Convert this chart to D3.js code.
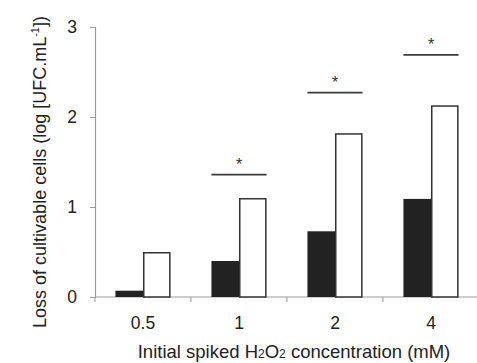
<!DOCTYPE html>
<html>
<head>
<meta charset="utf-8">
<script src="https://cdn.jsdelivr.net/npm/d3@7"></script>
<style>
  body { margin: 0; background: #fff; }
  svg { display: block; font-family: "Liberation Sans", Arial, sans-serif; }
</style>
</head>
<body>
<svg id="chart" width="477" height="363"></svg>
<script>
// H2O2 concentrations (mM)
const categories = ["0.5", "1", "2", "4"];
// Loss of cultivable cells, log UFC/mL
const darkSeries = [0.07, 0.40, 0.73, 1.09];
const lightSeries = [0.50, 1.10, 1.82, 2.13];
// Significance bars: category and height of the bracket line
const sigCategories = ["1", "2", "4"];
const sigLevels = [1.36, 2.27, 2.69];
const yTicks = [0, 1, 2, 3];

const svg = d3.select("#chart");
const margin = { left: 95, right: -2, top: 27, bottom: 66 };
const W = 477, H = 363;

const x = d3.scaleBand().domain(categories)
  .range([margin.left, W - margin.right]).paddingInner(0).paddingOuter(0);
const y = d3.scaleLinear().domain([0, 3]).range([H - margin.bottom, margin.top]);

const inner = d3.scaleBand().domain(["dark", "light"])
  .range([0, x.bandwidth()]).paddingOuter(0.74).paddingInner(0);

const axisColor = "#9a9a9a";

// y axis
const yAxis = svg.append("g")
  .attr("transform", `translate(${margin.left},0)`)
  .call(d3.axisLeft(y).tickValues(yTicks).tickSize(5).tickPadding(13).tickFormat(d3.format("d")));
yAxis.select(".domain").attr("stroke", axisColor).attr("stroke-width", 1.2);
yAxis.selectAll(".tick line").attr("stroke", axisColor);
yAxis.selectAll(".tick text").attr("font-size", 17.5).attr("fill", "#222")
  .attr("font-family", "Liberation Sans, Arial, sans-serif");

// x axis with ticks on band boundaries
const xAxisG = svg.append("g").attr("transform", `translate(0,${y(0)})`);
xAxisG.append("line")
  .attr("x1", margin.left).attr("x2", W - margin.right)
  .attr("stroke", axisColor).attr("stroke-width", 1.2);
xAxisG.selectAll("line.tk").data(categories)
  .join("line").attr("class", "tk")
  .attr("x1", d => x(d)).attr("x2", d => x(d))
  .attr("y1", 0).attr("y2", 5).attr("stroke", axisColor);
xAxisG.selectAll("text").data(categories)
  .join("text")
  .attr("x", d => x(d) + x.bandwidth() / 2)
  .attr("y", 32)
  .attr("text-anchor", "middle")
  .attr("font-size", 17.5).attr("fill", "#222")
  .text(d => d);

// bars
const groups = svg.append("g").selectAll("g").data(categories).join("g")
  .attr("transform", d => `translate(${x(d)},0)`);

groups.append("rect")
  .attr("x", inner("dark"))
  .attr("width", inner.bandwidth())
  .attr("y", (d, i) => y(darkSeries[i]))
  .attr("height", (d, i) => y(0) - y(darkSeries[i]))
  .attr("fill", "#222");

groups.append("rect")
  .attr("x", inner("light") + 0.75)
  .attr("width", inner.bandwidth() - 1.5)
  .attr("y", (d, i) => y(lightSeries[i]) + 0.75)
  .attr("height", (d, i) => y(0) - y(lightSeries[i]) - 0.75)
  .attr("fill", "#fff").attr("stroke", "#333").attr("stroke-width", 1.5);

// significance brackets
const sig = svg.append("g").selectAll("g").data(sigCategories).join("g");
sig.append("line")
  .attr("x1", d => x(d) + inner("dark"))
  .attr("x2", d => x(d) + inner("light") + inner.bandwidth())
  .attr("y1", (d, i) => y(sigLevels[i]))
  .attr("y2", (d, i) => y(sigLevels[i]))
  .attr("stroke", "#3a3a3a").attr("stroke-width", 1.8);
sig.append("text")
  .attr("x", d => x(d) + x.bandwidth() / 2)
  .attr("y", (d, i) => y(sigLevels[i]) - 5)
  .attr("text-anchor", "middle")
  .attr("font-size", 16).attr("fill", "#333")
  .text("*");

// axis titles
const yTitle = svg.append("text")
  .attr("transform", `translate(46,172) rotate(-90)`)
  .attr("text-anchor", "middle")
  .attr("font-size", 18).attr("fill", "#222");
yTitle.append("tspan").text("Loss of cultivable cells (log [UFC.mL");
yTitle.append("tspan").attr("font-size", 11).attr("dy", -7).text("-1");
yTitle.append("tspan").attr("dy", 7).text("])");

const xTitle = svg.append("text")
  .attr("x", 294).attr("y", 358)
  .attr("text-anchor", "middle")
  .attr("font-size", 18.5).attr("fill", "#222");
xTitle.append("tspan").text("Initial spiked H");
xTitle.append("tspan").attr("font-size", 12).text("2");
xTitle.append("tspan").text("O");
xTitle.append("tspan").attr("font-size", 12).text("2");
xTitle.append("tspan").text(" concentration (mM)");
</script>
</body>
</html>
